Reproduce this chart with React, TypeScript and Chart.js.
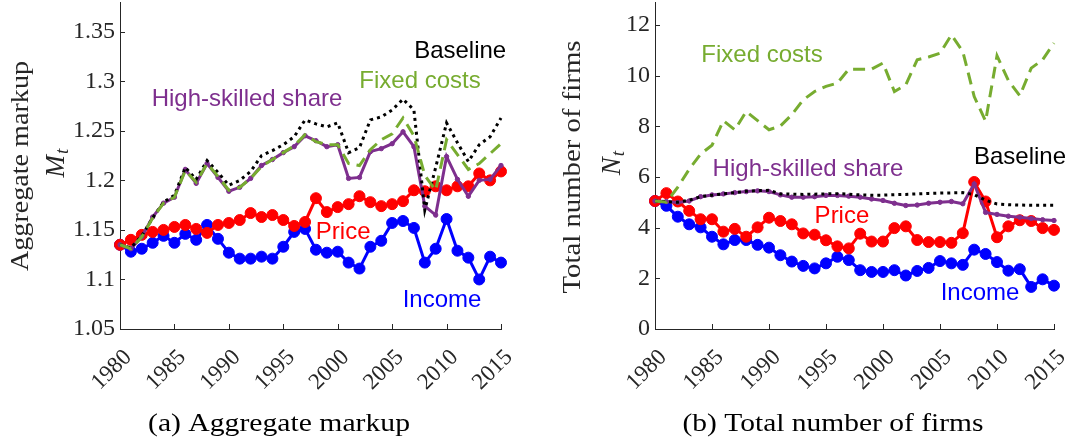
import React, { useEffect, useRef } from "react";
import { Chart, registerables } from "chart.js";

Chart.register(...registerables);

// ---------- data ----------
const years = [
  1980, 1981, 1982, 1983, 1984, 1985, 1986, 1987, 1988, 1989,
  1990, 1991, 1992, 1993, 1994, 1995, 1996, 1997, 1998, 1999,
  2000, 2001, 2002, 2003, 2004, 2005, 2006, 2007, 2008, 2009,
  2010, 2011, 2012, 2013, 2014, 2015,
];
const xTicks = [1980, 1985, 1990, 1995, 2000, 2005, 2010, 2015];

// (a) Aggregate markup
const markupTicks = [1.05, 1.1, 1.15, 1.2, 1.25, 1.3, 1.35];
const markupTickLabels = ["1.05", "1.1", "1.15", "1.2", "1.25", "1.3", "1.35"];
const markupBaseline = [
  1.135, 1.132, 1.144, 1.162, 1.178, 1.185, 1.213, 1.201, 1.220, 1.208,
  1.195, 1.200, 1.209, 1.225, 1.230, 1.236, 1.244, 1.261, 1.257, 1.254,
  1.258, 1.228, 1.233, 1.261, 1.264, 1.271, 1.282, 1.271, 1.170, 1.213,
  1.258, 1.238, 1.219, 1.236, 1.244, 1.263,
];
const markupFixedCosts = [
  1.135, 1.131, 1.143, 1.162, 1.177, 1.183, 1.210, 1.198, 1.217, 1.204,
  1.190, 1.193, 1.202, 1.214, 1.221, 1.228, 1.235, 1.246, 1.239, 1.236,
  1.236, 1.217, 1.215, 1.231, 1.241, 1.247, 1.263, 1.245, 1.205, 1.190,
  1.241, 1.226, 1.211, 1.217, 1.227, 1.237,
];
const markupHighSkilled = [
  1.135, 1.131, 1.143, 1.163, 1.177, 1.183, 1.211, 1.197, 1.217, 1.203,
  1.189, 1.193, 1.202, 1.215, 1.221, 1.228, 1.234, 1.245, 1.240, 1.234,
  1.236, 1.202, 1.203, 1.229, 1.232, 1.237, 1.249, 1.234, 1.174, 1.165,
  1.224, 1.201, 1.184, 1.200, 1.201, 1.215,
];
const markupPrice = [
  1.135, 1.140, 1.145, 1.148, 1.150, 1.153, 1.155, 1.151, 1.147, 1.155,
  1.157, 1.160, 1.167, 1.163, 1.165, 1.160, 1.154, 1.158, 1.182, 1.168,
  1.173, 1.176, 1.184, 1.178, 1.174, 1.176, 1.179, 1.190, 1.189, 1.194,
  1.190, 1.194, 1.194, 1.207, 1.200, 1.209,
];
const markupIncome = [
  1.135, 1.128, 1.131, 1.137, 1.144, 1.137, 1.146, 1.140, 1.155, 1.141,
  1.127, 1.121, 1.121, 1.123, 1.121, 1.133, 1.148, 1.151, 1.130, 1.127,
  1.128, 1.117, 1.111, 1.133, 1.139, 1.157, 1.159, 1.152, 1.117, 1.131,
  1.161, 1.129, 1.122, 1.100, 1.123, 1.117,
];

// (b) Total number of firms
const firmsTicks = [0, 2, 4, 6, 8, 10, 12];
const firmsTickLabels = ["0", "2", "4", "6", "8", "10", "12"];
const firmsBaseline = [
  5.05, 5.02, 5.00, 5.08, 5.22, 5.28, 5.33, 5.38, 5.43, 5.46,
  5.47, 5.33, 5.32, 5.31, 5.32, 5.33, 5.34, 5.32, 5.29, 5.28,
  5.28, 5.30, 5.31, 5.33, 5.35, 5.36, 5.37, 5.38, 5.30, 5.08,
  4.93, 4.90, 4.89, 4.88, 4.88, 4.88,
];
const firmsFixedCosts = [
  5.05, 5.00, 5.60, 6.30, 6.90, 7.25, 8.22, 7.86, 8.58, 8.22,
  7.86, 8.01, 8.45, 9.04, 9.37, 9.57, 9.70, 10.25, 10.25, 10.25,
  10.49, 9.37, 9.63, 10.62, 10.73, 10.88, 11.60, 10.95, 9.17, 8.20,
  10.78, 9.80, 9.20, 10.29, 10.62, 11.28,
];
const firmsHighSkilled = [
  5.05, 5.03, 4.99, 5.05, 5.22, 5.29, 5.33, 5.38, 5.42, 5.45,
  5.42, 5.29, 5.20, 5.20, 5.22, 5.27, 5.27, 5.24, 5.20, 5.13,
  5.07, 4.96, 4.87, 4.89, 4.96, 5.00, 5.03, 4.94, 5.72, 4.60,
  4.52, 4.45, 4.41, 4.36, 4.31, 4.28,
];
const firmsPrice = [
  5.05, 5.36, 5.03, 4.66, 4.33, 4.33, 3.84, 3.95, 3.64, 4.01,
  4.39, 4.26, 4.13, 3.77, 3.72, 3.50, 3.26, 3.18, 3.76, 3.45,
  3.45, 3.98, 4.05, 3.51, 3.43, 3.43, 3.40, 3.78, 5.80, 5.03,
  3.62, 4.05, 4.29, 4.26, 3.98, 3.91,
];
const firmsIncome = [
  5.05, 4.86, 4.43, 4.13, 4.01, 3.64, 3.34, 3.51, 3.51, 3.32,
  3.21, 2.91, 2.66, 2.49, 2.39, 2.59, 2.85, 2.72, 2.32, 2.25,
  2.25, 2.32, 2.11, 2.29, 2.41, 2.68, 2.59, 2.53, 3.13, 2.96,
  2.64, 2.30, 2.36, 1.66, 1.96, 1.71,
];

// ---------- styling ----------
const COLORS = {
  baseline: "#000000",
  fixed: "#77AC30",
  skilled: "#7E2F8E",
  price: "#FF0000",
  income: "#0000FF",
  axis: "#262626",
};

type Label = { text: string; x: number; y: number; color: string };

type Panel = {
  yMin: number;
  yMax: number;
  yTicks: number[];
  yTickLabels: string[];
  baseline: number[];
  fixed: number[];
  skilled: number[];
  price: number[];
  income: number[];
  labels: Label[];
  yTitle: string;
  yTitleSym: string;
  yTitlePos: { x: number; y: number; w: number };
  yTitleSymPos: { x: number; y: number };
  caption: string;
  captionPos: { x: number; y: number; w: number };
  padRight: number;
};

const leftPanel: Panel = {
  yMin: 1.05,
  yMax: 1.38,
  yTicks: markupTicks,
  yTickLabels: markupTickLabels,
  baseline: markupBaseline,
  fixed: markupFixedCosts,
  skilled: markupHighSkilled,
  price: markupPrice,
  income: markupIncome,
  labels: [
    { text: "Baseline", x: 2011.25, y: 1.3298, color: COLORS.baseline },
    { text: "Fixed costs", x: 2007.56, y: 1.2995, color: COLORS.fixed },
    { text: "High-skilled share", x: 1991.67, y: 1.2813, color: COLORS.skilled },
    { text: "Price", x: 2000.5, y: 1.148, color: COLORS.price },
    { text: "Income", x: 2009.58, y: 1.0793, color: COLORS.income },
  ],
  yTitle: "Aggregate markup",
  yTitleSym: "M",
  yTitlePos: { x: 21, y: 166, w: 210 },
  yTitleSymPos: { x: 56, y: 163 },
  caption: "(a) Aggregate markup",
  captionPos: { x: 279, y: 424, w: 262 },
  padRight: 34,
};

const rightPanel: Panel = {
  yMin: 0,
  yMax: 12.9,
  yTicks: firmsTicks,
  yTickLabels: firmsTickLabels,
  baseline: firmsBaseline,
  fixed: firmsFixedCosts,
  skilled: firmsHighSkilled,
  price: firmsPrice,
  income: firmsIncome,
  labels: [
    { text: "Fixed costs", x: 1989.39, y: 10.78, color: COLORS.fixed },
    { text: "Baseline", x: 2012.02, y: 6.79, color: COLORS.baseline },
    { text: "High-skilled share", x: 1993.42, y: 6.28, color: COLORS.skilled },
    { text: "Price", x: 1996.4, y: 4.46, color: COLORS.price },
    { text: "Income", x: 2008.51, y: 1.42, color: COLORS.income },
  ],
  yTitle: "Total number of firms",
  yTitleSym: "N",
  yTitlePos: { x: 38, y: 167, w: 253 },
  yTitleSymPos: { x: 77, y: 163 },
  caption: "(b) Total number of firms",
  captionPos: { x: 298, y: 424, w: 301 },
  padRight: 15,
};

const SERIF = '"Liberation Serif", "Times New Roman", serif';
const SANS = '"Liberation Sans", Arial, Helvetica, sans-serif';

function fillStretched(ctx: CanvasRenderingContext2D, text: string, cx: number, cy: number, width: number) {
  const w = ctx.measureText(text).width;
  ctx.save();
  ctx.translate(cx, cy);
  ctx.scale(width / w, 1);
  ctx.textAlign = "center";
  ctx.textBaseline = "middle";
  ctx.fillText(text, 0, 0);
  ctx.restore();
}

const decorPlugin = {
  id: "decor",
  afterDraw(chart: any, _args: any, opts: any) {
    const panel: Panel = opts.panel;
    if (!panel) return;
    const { ctx, chartArea } = chart;
    const xs = chart.scales.x;
    const ys = chart.scales.y;
    ctx.save();
    // inward tick marks
    ctx.strokeStyle = COLORS.axis;
    ctx.lineWidth = 1;
    ctx.beginPath();
    xs.ticks.forEach((t: any) => {
      const px = Math.round(xs.getPixelForValue(t.value)) + 0.5;
      ctx.moveTo(px, chartArea.bottom);
      ctx.lineTo(px, chartArea.bottom - 5);
    });
    ys.ticks.forEach((t: any) => {
      const py = Math.round(ys.getPixelForValue(t.value)) + 0.5;
      ctx.moveTo(chartArea.left, py);
      ctx.lineTo(chartArea.left + 5, py);
    });
    ctx.stroke();

    // in-plot series labels
    ctx.font = `24px ${SANS}`;
    ctx.textAlign = "center";
    ctx.textBaseline = "middle";
    panel.labels.forEach((l) => {
      ctx.fillStyle = l.color;
      ctx.fillText(l.text, xs.getPixelForValue(l.x), ys.getPixelForValue(l.y));
    });

    // y-axis title (rotated)
    ctx.fillStyle = COLORS.axis;
    ctx.save();
    ctx.translate(panel.yTitlePos.x, panel.yTitlePos.y);
    ctx.rotate(-Math.PI / 2);
    ctx.font = `25px ${SERIF}`;
    fillStretched(ctx, panel.yTitle, 0, 0, panel.yTitlePos.w);
    ctx.restore();

    // symbol with subscript t
    ctx.save();
    ctx.translate(panel.yTitleSymPos.x, panel.yTitleSymPos.y);
    ctx.rotate(-Math.PI / 2);
    ctx.font = `italic 27px ${SERIF}`;
    const mw = ctx.measureText(panel.yTitleSym).width;
    ctx.font = `italic 19px ${SERIF}`;
    const tw = ctx.measureText("t").width;
    const total = mw + tw + 1;
    ctx.textAlign = "left";
    ctx.textBaseline = "alphabetic";
    ctx.font = `italic 27px ${SERIF}`;
    ctx.fillText(panel.yTitleSym, -total / 2, 8);
    ctx.font = `italic 19px ${SERIF}`;
    ctx.fillText("t", -total / 2 + mw + 1, 12);
    ctx.restore();

    // caption
    ctx.font = `25px ${SERIF}`;
    ctx.fillStyle = "#000";
    fillStretched(ctx, panel.caption, panel.captionPos.x, panel.captionPos.y, panel.captionPos.w);
    ctx.restore();
  },
};

function series(label: string, values: number[], color: string, extra: any) {
  return {
    label,
    data: years.map((x, i) => ({ x, y: values[i] })),
    borderColor: color,
    backgroundColor: color,
    pointBackgroundColor: color,
    pointBorderColor: color,
    borderWidth: 3,
    pointRadius: 0,
    pointHoverRadius: 0,
    pointBorderWidth: 1,
    tension: 0,
    fill: false,
    clip: false,
    ...extra,
  };
}

function buildConfig(p: Panel): any {
  return {
    type: "line",
    data: {
      datasets: [
        series("Fixed costs", p.fixed, COLORS.fixed, { borderDash: [12, 7], order: 0 }),
        series("Baseline", p.baseline, COLORS.baseline, { borderDash: [3, 4], order: 1 }),
        series("High-skilled share", p.skilled, COLORS.skilled, { pointRadius: 2.2, order: 2 }),
        series("Price", p.price, COLORS.price, { pointRadius: 5.5, order: 3 }),
        series("Income", p.income, COLORS.income, { pointRadius: 5.5, order: 4 }),
      ],
    },
    options: {
      responsive: false,
      maintainAspectRatio: false,
      animation: false,
      events: [],
      layout: { autoPadding: false, padding: { left: 0, top: 2, right: p.padRight, bottom: 0 } },
      plugins: {
        legend: { display: false },
        tooltip: { enabled: false },
        title: { display: false },
        decor: { panel: p },
      },
      scales: {
        x: {
          type: "linear",
          min: 1980,
          max: 2015,
          afterBuildTicks: (s: any) => {
            s.ticks = xTicks.map((v) => ({ value: v }));
          },
          afterFit: (s: any) => {
            s.height = 114;
            s.paddingLeft = 0;
            s.paddingRight = 0;
          },
          ticks: {
            autoSkip: false,
            minRotation: 45,
            maxRotation: 45,
            padding: 15,
            labelOffset: 8,
            color: COLORS.axis,
            font: { family: SERIF, size: 23 },
            callback: (v: any) => String(v),
          },
          grid: { display: true, drawOnChartArea: false, drawTicks: false },
          border: { display: true, color: COLORS.axis, width: 1 },
        },
        y: {
          type: "linear",
          min: p.yMin,
          max: p.yMax,
          afterBuildTicks: (s: any) => {
            s.ticks = p.yTicks.map((v) => ({ value: v }));
          },
          afterFit: (s: any) => {
            s.width = 120;
            s.paddingTop = 0;
            s.paddingBottom = 0;
          },
          ticks: {
            padding: 5,
            color: COLORS.axis,
            font: { family: SERIF, size: 24 },
            callback: (_v: any, i: number) => p.yTickLabels[i],
          },
          grid: { display: true, drawOnChartArea: false, drawTicks: false },
          border: { display: true, color: COLORS.axis, width: 1 },
        },
      },
    },
    plugins: [decorPlugin],
  };
}

export default function App() {
  const leftRef = useRef<HTMLCanvasElement>(null);
  const rightRef = useRef<HTMLCanvasElement>(null);

  useEffect(() => {
    const a = new Chart(leftRef.current as HTMLCanvasElement, buildConfig(leftPanel));
    const b = new Chart(rightRef.current as HTMLCanvasElement, buildConfig(rightPanel));
    return () => {
      a.destroy();
      b.destroy();
    };
  }, []);

  return (
    <div style={{ position: "absolute", left: 0, top: 0, width: 1069, height: 443, background: "#fff", overflow: "hidden" }}>
      <canvas ref={leftRef} width={535} height={443} style={{ position: "absolute", left: 0, top: 0, width: 535, height: 443 }} />
      <canvas ref={rightRef} width={534} height={443} style={{ position: "absolute", left: 535, top: 0, width: 534, height: 443 }} />
    </div>
  );
}
